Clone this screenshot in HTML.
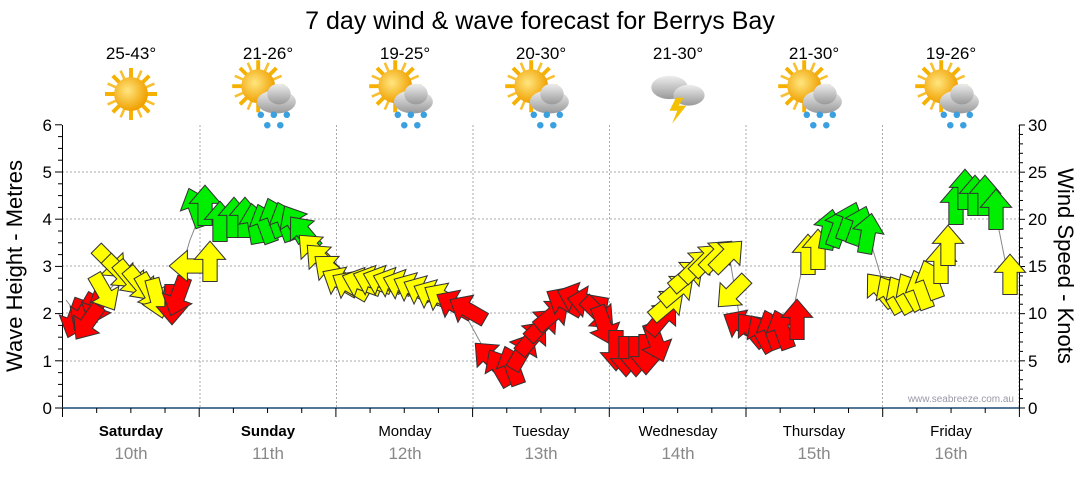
<!DOCTYPE html>
<html><head><meta charset="utf-8"><style>
body{margin:0;background:#fff;width:1080px;height:475px;overflow:hidden;font-family:"Liberation Sans",sans-serif}
</style></head><body>
<svg width="1080" height="475" xmlns="http://www.w3.org/2000/svg" font-family="Liberation Sans, sans-serif">
<defs>
<path id="ar" d="M0,-16 L12,-2 L5.5,-2 L5.5,15 L-5.5,15 L-5.5,-2 L-12,-2 Z" stroke="#333" stroke-width="0.8"/>
<radialGradient id="sun" cx="0.4" cy="0.4" r="0.6"><stop offset="0" stop-color="#ffe680"/><stop offset="1" stop-color="#f0a000"/></radialGradient>
<linearGradient id="cl" x1="0" y1="0" x2="0" y2="1"><stop offset="0" stop-color="#eee"/><stop offset="1" stop-color="#999"/></linearGradient>
<g id="sunI"><g stroke="#f5b000" stroke-width="3"><line x1="-20" y1="0" x2="20" y2="0"/><line x1="0" y1="-20" x2="0" y2="20"/><line x1="-14" y1="-14" x2="14" y2="14"/><line x1="-14" y1="14" x2="14" y2="-14"/></g><g stroke="#f8c030" stroke-width="2"><line x1="-18" y1="-8" x2="18" y2="8"/><line x1="-8" y1="-18" x2="8" y2="18"/><line x1="-18" y1="8" x2="18" y2="-8"/><line x1="-8" y1="18" x2="8" y2="-18"/></g><circle r="13" fill="url(#sun)"/></g>
<g id="rainI"><use href="#sunI" x="-6" y="-6"/><ellipse cx="8" cy="6" rx="15" ry="9" fill="url(#cl)"/><ellipse cx="10" cy="0" rx="9" ry="8" fill="url(#cl)"/><g fill="#3aa0e0"><circle cx="-4" cy="16" r="2.5"/><circle cx="6" cy="16" r="2.5"/><circle cx="16" cy="16" r="2.5"/><circle cx="1" cy="24" r="2.5"/><circle cx="11" cy="24" r="2.5"/></g></g>
</defs>
<text x="540" y="29" text-anchor="middle" font-size="25">7 day wind &amp; wave forecast for Berrys Bay</text>
<g font-size="17" text-anchor="middle">
<text x="131" y="59">25-43°</text><text x="268" y="59">21-26°</text><text x="405" y="59">19-25°</text><text x="541" y="59">20-30°</text><text x="678" y="59">21-30°</text><text x="814" y="59">21-30°</text><text x="951" y="59">19-26°</text>
</g>
<use href="#sunI" transform="translate(131,94) scale(1.3)"/>
<use href="#rainI" transform="translate(266,94) scale(1.3)"/><use href="#rainI" transform="translate(403,94) scale(1.3)"/><use href="#rainI" transform="translate(539,94) scale(1.3)"/>
<g transform="translate(676,90) scale(1.3)"><ellipse cx="-5" cy="-2" rx="14" ry="9" fill="url(#cl)"/><ellipse cx="10" cy="4" rx="12" ry="8" fill="url(#cl)"/><path d="M0,6 L-5,16 L1,16 L-3,26 L8,12 L2,12 L6,6Z" fill="#f5c000"/></g>
<use href="#rainI" transform="translate(812,94) scale(1.3)"/><use href="#rainI" transform="translate(949,94) scale(1.3)"/>
<g stroke="#aaa" stroke-dasharray="2,2" stroke-width="1">
<line x1="62" y1="172" x2="1019" y2="172"/><line x1="62" y1="219" x2="1019" y2="219"/><line x1="62" y1="266" x2="1019" y2="266"/><line x1="62" y1="313" x2="1019" y2="313"/><line x1="62" y1="361" x2="1019" y2="361"/>
<line x1="200" y1="125" x2="200" y2="408"/><line x1="336.5" y1="125" x2="336.5" y2="408"/><line x1="473" y1="125" x2="473" y2="408"/><line x1="609.5" y1="125" x2="609.5" y2="408"/><line x1="746" y1="125" x2="746" y2="408"/><line x1="882.5" y1="125" x2="882.5" y2="408"/><line x1="1019" y1="125" x2="1019" y2="408"/>
</g>
<g stroke="#000" stroke-width="1">
<line x1="62.5" y1="125" x2="62.5" y2="417"/>
<line x1="1019.5" y1="125" x2="1019.5" y2="408"/>
</g>
<line x1="62" y1="408" x2="1019" y2="408" stroke="#1a4a70" stroke-width="1.5"/>
<g stroke="#000" id="tk"></g>
<g font-size="17" text-anchor="end">
<text x="52" y="131">6</text><text x="52" y="178">5</text><text x="52" y="225">4</text><text x="52" y="272">3</text><text x="52" y="319">2</text><text x="52" y="367">1</text><text x="52" y="414">0</text>
</g>
<g font-size="17">
<text x="1028" y="131">30</text><text x="1028" y="178">25</text><text x="1028" y="225">20</text><text x="1028" y="272">15</text><text x="1028" y="319">10</text><text x="1028" y="367">5</text><text x="1028" y="414">0</text>
</g>
<text transform="translate(22,266) rotate(-90)" text-anchor="middle" font-size="22">Wave Height - Metres</text>
<text transform="translate(1058,266) rotate(90)" text-anchor="middle" font-size="22">Wind Speed - Knots</text>
<g font-size="15" text-anchor="middle">
<text x="131" y="436" font-weight="bold">Saturday</text><text x="268" y="436" font-weight="bold">Sunday</text><text x="405" y="436">Monday</text><text x="541" y="436">Tuesday</text><text x="678" y="436">Wednesday</text><text x="814" y="436">Thursday</text><text x="951" y="436">Friday</text>
</g>
<g font-size="17" text-anchor="middle" fill="#888">
<text x="131" y="459">10th</text><text x="268" y="459">11th</text><text x="405" y="459">12th</text><text x="541" y="459">13th</text><text x="678" y="459">14th</text><text x="814" y="459">15th</text><text x="951" y="459">16th</text>
</g>
<text x="1014" y="402" text-anchor="end" font-size="10" fill="#99a">www.seabreeze.com.au</text>
<polyline fill="none" stroke="#888" points="66,300 80,318 100,300 120,278 150,295 172,300 190,240 200,215 250,225 300,235 340,280 400,285 460,305 490,360 510,370 540,325 580,300 605,320 620,355 650,355 665,305 700,265 730,260 740,320 790,325 805,255 850,225 870,240 885,290 930,280 955,205 995,210 1008,275"/>
<g id="arrows"></g>
</svg>
<script>
var tk=document.getElementById('tk'),s='';
for(var i=0;i<=24;i++){var y=408-i*47.2/4;s+='<line x1="'+(i%4?58:55)+'" y1="'+y+'" x2="62" y2="'+y+'"/>';}
for(var i=0;i<=30;i++){var y=408-i*283/30;s+='<line x1="1019" y1="'+y+'" x2="'+(i%5?1023:1025)+'" y2="'+y+'"/>';}
for(var i=0;i<=28;i++){var x=62.5+i*136.7/4;s+='<line x1="'+x+'" y1="408" x2="'+x+'" y2="'+(i%4?413:417)+'"/>';}
tk.innerHTML=s;
var R='#ff0000',Y='#ffff00',G='#00ee00';
var A=[[75,318,200,R],[85,312,210,R],[97,305,200,R],[88,322,215,R],
[110,262,135,Y],[120,272,135,Y],[130,278,140,Y],[140,284,140,Y],[150,292,150,Y],[157,298,165,Y],[104,292,150,Y],
[172,304,180,R],[178,296,200,R],
[190,266,270,Y],[210,262,0,Y],
[196,208,-20,G],[205,206,0,G],[220,222,0,G],[234,218,0,G],[245,218,0,G],[255,224,-10,G],[265,224,-20,G],[275,218,-20,G],[285,222,-20,G],[295,224,-30,G],[304,233,-40,G],
[314,250,-45,Y],[322,260,-45,Y],[331,270,-50,Y],[341,282,-60,Y],[351,286,-60,Y],[362,283,-70,Y],[373,281,-70,Y],[383,281,-70,Y],[393,283,-70,Y],[403,285,-70,Y],[413,288,-65,Y],[423,291,-65,Y],[433,295,-65,Y],[443,298,-60,Y],
[455,305,-60,R],[468,310,-60,R],
[490,358,-45,R],[500,368,-30,R],[512,366,-20,R],[522,352,30,R],[532,338,40,R],[542,325,45,R],[552,315,50,R],[565,302,-60,R],[577,298,-70,R],[588,302,-80,R],[598,313,135,R],[604,325,160,R],
[616,350,180,R],[626,356,180,R],[636,356,180,R],[646,354,180,R],[656,342,160,R],[662,318,40,R],
[667,305,50,Y],[677,290,50,Y],[687,276,50,Y],[697,266,45,Y],[707,260,45,Y],[717,256,45,Y],[727,256,45,Y],[733,292,225,Y],
[742,325,-60,R],[752,330,-40,R],[762,334,-30,R],[772,330,-20,R],[782,330,-20,R],[797,320,0,R],
[808,255,0,Y],[818,250,0,Y],[829,230,10,G],[839,228,20,G],[849,222,20,G],[859,226,20,G],[868,234,10,G],
[881,290,-40,Y],[891,295,-30,Y],[901,295,-30,Y],[911,292,-30,Y],[921,290,-20,Y],[931,280,-20,Y],[941,264,0,Y],[948,246,0,Y],
[956,205,0,G],[965,190,0,G],[975,196,0,G],[985,196,0,G],[996,210,0,G],[1010,275,0,Y]];
var h='';A.forEach(function(a){h+='<use href="#ar" fill="'+a[3]+'" transform="translate('+a[0]+','+a[1]+') rotate('+a[2]+') scale(1.3)"/>';});
document.getElementById('arrows').innerHTML=h;
</script>
</body></html>
